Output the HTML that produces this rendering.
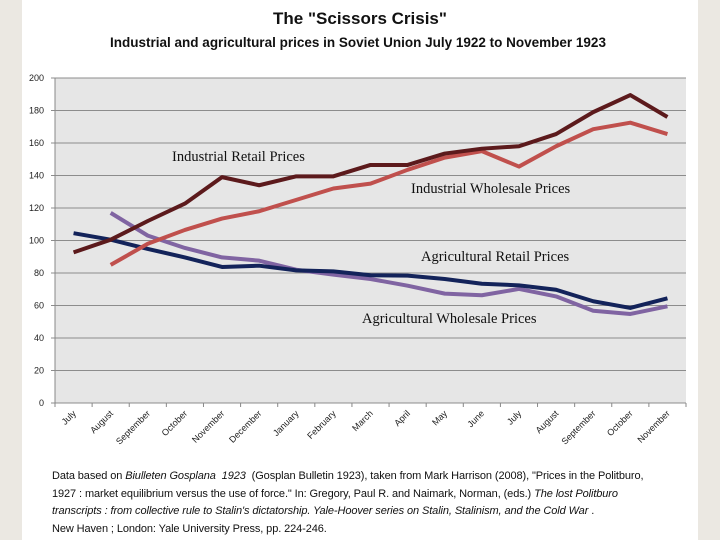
<!DOCTYPE html>
<html><head><meta charset="utf-8"><style>
body{margin:0;width:720px;height:540px;background:#ebe8e2;overflow:hidden;font-family:"Liberation Sans",sans-serif}
#panel{position:absolute;left:22px;top:0;width:676px;height:540px;background:#fff}
.t{position:absolute;left:0;width:720px;text-align:center;font-weight:bold;color:#111}
#foot{position:absolute;left:52px;top:468px;font-size:11px;line-height:17.5px;color:#111;letter-spacing:-0.1px}
</style></head><body>
<div id="panel"></div>
<div class="t" style="top:9px;font-size:17px">The "Scissors Crisis"</div>
<div class="t" style="top:35px;font-size:13.5px;left:-2px">Industrial and agricultural prices in Soviet Union July 1922 to November 1923</div>
<svg id="chart" width="720" height="540" style="position:absolute;left:0;top:0"></svg>
<div id="foot">Data based on <i>Biulleten Gosplana&nbsp; 1923</i>&nbsp; (Gosplan Bulletin 1923), taken from Mark Harrison (2008), "Prices in the Politburo,<br>1927 : market equilibrium versus the use of force." In: Gregory, Paul R. and Naimark, Norman, (eds.) <i>The lost Politburo</i><br><i>transcripts : from collective rule to Stalin's dictatorship. Yale-Hoover series on Stalin, Stalinism, and the Cold War</i> .<br>New Haven ; London: Yale University Press, pp. 224-246.</div>
<script>
const months=["July","August","September","October","November","December","January","February","March","April","May","June","July","August","September","October","November"];
const yTicks=[0,20,40,60,80,100,120,140,160,180,200];
const indRetail=[92.7,100.5,112,122.7,139,134,139.5,139.5,146.5,146.5,153.5,156.5,158,165.5,179,189.5,176];
const indWholesale=[null,85,98,106.5,113.5,118,125,132,135,143.5,151,155,145.5,158,168.5,172.5,165.5];
const agrRetail=[104.5,100.5,94.8,89.6,83.7,84.5,81.6,81,78.6,78.4,76.3,73.4,72.4,69.7,62.6,58.5,64.4];
const agrWholesale=[null,117,103,95.4,89.6,87.6,82,79,76.3,72.2,67.3,66.3,70.2,65.6,56.8,54.8,59.5];
const seriesNames=["Industrial Retail Prices","Industrial Wholesale Prices","Agricultural Retail Prices","Agricultural Wholesale Prices"];
const L=55,R=686,T=78,B=403;
const svg=document.getElementById('chart');const NS="http://www.w3.org/2000/svg";
const bw=(R-L)/months.length;
function x(i){return L+bw*(i+0.5);}
function y(v){return B-(v/200)*(B-T);}
function mk(t,a){const e=document.createElementNS(NS,t);for(const k in a)e.setAttribute(k,a[k]);svg.appendChild(e);return e;}
const bg=mk('rect',{x:L,y:T,width:R-L,height:B-T,fill:'#e6e6e6'});


yTicks.forEach(v=>{
 const g=mk('line',{x1:L-4,x2:R,y1:y(v),y2:y(v),stroke:'#8c8c8c','stroke-width':1});
 
 
 const t=mk('text',{x:L-11,y:y(v)+3,'text-anchor':'end','font-size':9,fill:'#222'});t.textContent=v;
 
 
});
mk('line',{x1:L,x2:L,y1:T,y2:B,stroke:'#888'});
months.forEach((m,i)=>{
 mk('line',{x1:L+bw*i,x2:L+bw*i,y1:B,y2:B+4,stroke:'#888'});
 const t=mk('text',{x:x(i)+3,y:B+11,'text-anchor':'end','font-size':9,fill:'#222',transform:`rotate(-45 ${x(i)+3} ${B+11})`});t.textContent=m;
 
 
});
mk('line',{x1:R,x2:R,y1:B,y2:B+4,stroke:'#888'});
function line(data,color,name){
 let d='';data.forEach((v,i)=>{if(v==null)return;d+=(d?'L':'M')+x(i)+' '+y(v);});
 const p=mk('path',{d:d,fill:'none',stroke:color,'stroke-width':4,'stroke-linejoin':'round'});
 
 
}
line(agrWholesale,'#8064a2','agricultural-wholesale-line');
line(agrRetail,'#13235a','agricultural-retail-line');
line(indWholesale,'#c0504d','industrial-wholesale-line');
line(indRetail,'#5c1a1c','industrial-retail-line');
const ann=[[172,161],[411,193],[421,261],[362,323]];
seriesNames.forEach((s,i)=>{
 const t=mk('text',{x:ann[i][0],y:ann[i][1],'font-size':14.5,'font-family':'"Liberation Serif",serif',fill:'#111'});t.textContent=s;
 
 
});
</script>
</body></html>
